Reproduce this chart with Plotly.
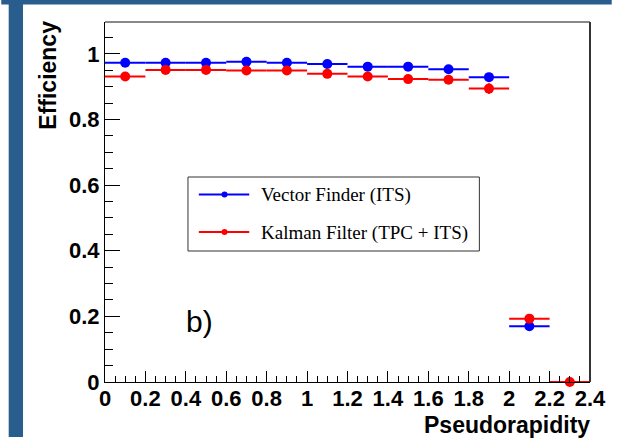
import plotly.graph_objects as go

# Pseudorapidity bins (width 0.2) and reconstruction efficiency per bin
bin_centers = [0.1, 0.3, 0.5, 0.7, 0.9, 1.1, 1.3, 1.5, 1.7, 1.9, 2.1, 2.3]
bin_half_width = 0.1

vf_eta = bin_centers[:11]
vf_eff = [0.973, 0.973, 0.973, 0.976, 0.973, 0.969, 0.961, 0.961, 0.953, 0.929, 0.170]
vf_err = [0.010, 0.010, 0.010, 0.011, 0.010, 0.011, 0.011, 0.011, 0.012, 0.013, 0.010]

kf_eta = bin_centers
kf_eff = [0.931, 0.951, 0.951, 0.949, 0.949, 0.939, 0.931, 0.923, 0.921, 0.894, 0.193, 0.0]
kf_err = [0.011, 0.011, 0.011, 0.011, 0.011, 0.012, 0.012, 0.012, 0.013, 0.016, 0.011, 0.0]

series_names = ["Vector Finder (ITS)", "Kalman Filter (TPC + ITS)"]
series_colors = ["#0000ff", "#ff0000"]

x_ticks = [0, 0.2, 0.4, 0.6, 0.8, 1, 1.2, 1.4, 1.6, 1.8, 2, 2.2, 2.4]
x_tick_text = ["0", "0.2", "0.4", "0.6", "0.8", "1", "1.2", "1.4", "1.6", "1.8", "2", "2.2", "2.4"]
y_ticks = [0, 0.2, 0.4, 0.6, 0.8, 1]
y_tick_text = ["0", "0.2", "0.4", "0.6", "0.8", "1"]

W, H = 618, 440
ML, MR, MT, MB = 105, 22, 22, 58
PW, PH = W - ML - MR, H - MT - MB


def px(xpix):
    return (xpix - ML) / PW


def py(ypix):
    return (H - MB - ypix) / PH


fig = go.Figure()

for eta, eff, err, name, color in [
    (vf_eta, vf_eff, vf_err, series_names[0], series_colors[0]),
    (kf_eta, kf_eff, kf_err, series_names[1], series_colors[1]),
]:
    fig.add_trace(go.Scatter(
        x=eta, y=eff, name=name, mode="markers",
        marker=dict(color=color, size=10, symbol="circle"),
        error_x=dict(type="constant", value=bin_half_width, color=color, thickness=2, width=0),
        error_y=dict(type="data", array=err, color=color, thickness=2, width=0),
        cliponaxis=False, showlegend=False,
    ))

tick_font = dict(family="Liberation Sans", size=22, color="black", weight="bold")
title_font = dict(family="Liberation Sans", size=23, color="black", weight="bold")

fig.update_xaxes(
    range=[0, 2.4], tickvals=x_ticks, ticktext=x_tick_text, tickfont=tick_font,
    ticks="inside", ticklen=11, tickwidth=1, tickcolor="black", ticklabelstandoff=-3,
    minor=dict(dtick=0.05, tick0=0, ticks="inside", ticklen=6, tickwidth=1, tickcolor="black"),
    showline=True, linecolor="black", linewidth=1,
    showgrid=False, zeroline=False,
)
fig.update_yaxes(
    range=[0, 1.097], tickvals=y_ticks, ticktext=y_tick_text, tickfont=tick_font,
    ticks="inside", ticklen=15, tickwidth=1, tickcolor="black",
    minor=dict(dtick=0.05, tick0=0, ticks="inside", ticklen=8, tickwidth=1, tickcolor="black"),
    showline=True, linecolor="black", linewidth=1,
    showgrid=False, zeroline=False,
)

shapes = []
# frame top and right edges
shapes.append(dict(type="line", xref="paper", yref="paper", x0=0, x1=1, y0=1, y1=1,
                   line=dict(color="#888888", width=2)))
shapes.append(dict(type="line", xref="paper", yref="paper", x0=1, x1=1, y0=0, y1=1,
                   line=dict(color="#333333", width=2)))
# slide border bands
border_blue = "#285d8e"
shapes.append(dict(type="rect", xref="paper", yref="paper", x0=px(0), x1=px(W), y0=py(4.5), y1=py(0),
                   fillcolor=border_blue, line=dict(width=0), layer="above"))
shapes.append(dict(type="rect", xref="paper", yref="paper", x0=px(7.5), x1=px(22), y0=py(437), y1=py(0),
                   fillcolor=border_blue, line=dict(width=0), layer="above"))

# legend box
shapes.append(dict(type="rect", xref="paper", yref="paper", x0=px(189), x1=px(484), y0=py(251), y1=py(177),
                   fillcolor="white", line=dict(color="#333333", width=1)))
legend_rows = [194.5, 232]
annotations = []
for row_y, name, color in zip(legend_rows, series_names, series_colors):
    shapes.append(dict(type="line", xref="paper", yref="paper", x0=px(200), x1=px(251),
                       y0=py(row_y), y1=py(row_y), line=dict(color=color, width=2)))
    shapes.append(dict(type="circle", xref="paper", yref="paper",
                       xsizemode="pixel", ysizemode="pixel",
                       xanchor=px(226), yanchor=py(row_y),
                       x0=-3, x1=3, y0=-3, y1=3,
                       fillcolor=color, line=dict(color=color, width=0)))
    annotations.append(dict(text=name, xref="paper", yref="paper", x=px(261), y=py(row_y + 1),
                            xanchor="left", yanchor="middle", showarrow=False,
                            font=dict(family="Liberation Serif", size=19, color="black")))

annotations.append(dict(text="b)", xref="paper", yref="paper", x=px(185), y=py(321),
                        xanchor="left", yanchor="middle", showarrow=False,
                        font=dict(family="Liberation Sans", size=30, color="black")))
annotations.append(dict(text="Pseudorapidity", xref="paper", yref="paper", x=px(598), y=py(425),
                        xanchor="right", yanchor="middle", showarrow=False,
                        font=title_font))
annotations.append(dict(text="Efficiency", xref="paper", yref="paper", x=px(47), y=py(75),
                        xanchor="center", yanchor="middle", showarrow=False, textangle=-90,
                        font=title_font))

fig.update_layout(
    width=W, height=H,
    margin=dict(l=ML, r=MR, t=MT, b=MB),
    paper_bgcolor="white", plot_bgcolor="white",
    shapes=shapes, annotations=annotations,
    showlegend=False,
)

fig.write_html("out.html")
